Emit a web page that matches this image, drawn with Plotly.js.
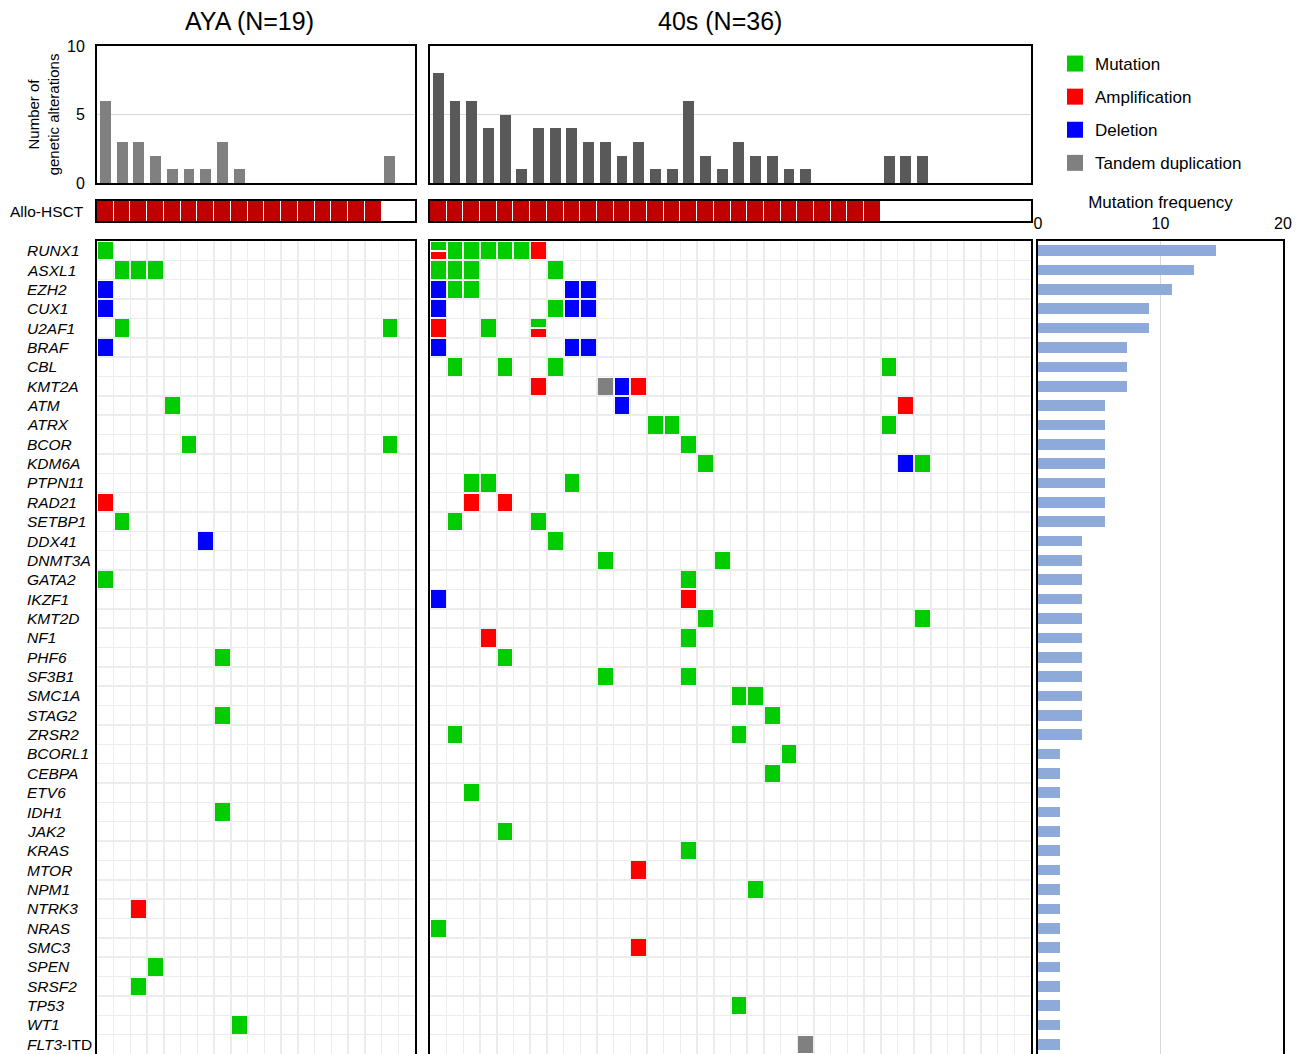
<!DOCTYPE html>
<html>
<head>
<meta charset="utf-8">
<script src="https://cdn.plot.ly/plotly-3.0.1.min.js"></script>
<style>html,body{margin:0;padding:0;background:#fff;}#chart{width:1306px;height:1054px;}</style>
</head>
<body>
<div id="chart"></div>
<script>
// ---------------- DATA ----------------
const genes = ['RUNX1','ASXL1','EZH2','CUX1','U2AF1','BRAF','CBL','KMT2A','ATM','ATRX','BCOR','KDM6A','PTPN11','RAD21','SETBP1','DDX41','DNMT3A','GATA2','IKZF1','KMT2D','NF1','PHF6','SF3B1','SMC1A','STAG2','ZRSR2','BCORL1','CEBPA','ETV6','IDH1','JAK2','KRAS','MTOR','NPM1','NTRK3','NRAS','SMC3','SPEN','SRSF2','TP53','WT1','FLT3-ITD'];
const geneLabels = genes.map(g => g === 'FLT3-ITD' ? '<i>FLT3</i>-ITD' : '<i>' + g + '</i>');

const groupTitles = ['AYA (N=19)', '40s (N=36)'];

// number of genetic alterations per patient
const ayaCounts = [6,3,3,2,1,1,1,3,1,0,0,0,0,0,0,0,0,2,0];
const fortyCounts = [8,6,6,4,5,1,4,4,4,3,3,2,3,1,1,6,2,1,3,2,2,1,1,0,0,0,0,2,2,2,0,0,0,0,0,0];

// Allo-HSCT (1 = yes, 0 = no)
const ayaAllo = [1,1,1,1,1,1,1,1,1,1,1,1,1,1,1,1,1,0,0];
const fortyAllo = [1,1,1,1,1,1,1,1,1,1,1,1,1,1,1,1,1,1,1,1,1,1,1,1,1,1,1,0,0,0,0,0,0,0,0,0];

// alterations: [gene, patient, type]; M=mutation, A=amplification, D=deletion, T=tandem duplication, 'M/A' = both
const ayaAlterations = [
  ['RUNX1',1,'M'],
  ['ASXL1',2,'M'],['ASXL1',3,'M'],['ASXL1',4,'M'],
  ['EZH2',1,'D'],
  ['CUX1',1,'D'],
  ['U2AF1',2,'M'],['U2AF1',18,'M'],
  ['BRAF',1,'D'],
  ['ATM',5,'M'],
  ['BCOR',6,'M'],['BCOR',18,'M'],
  ['RAD21',1,'A'],
  ['SETBP1',2,'M'],
  ['DDX41',7,'D'],
  ['GATA2',1,'M'],
  ['PHF6',8,'M'],
  ['STAG2',8,'M'],
  ['IDH1',8,'M'],
  ['NTRK3',3,'A'],
  ['SPEN',4,'M'],
  ['SRSF2',3,'M'],
  ['WT1',9,'M']
];
const fortyAlterations = [
  ['RUNX1',1,'M/A'],['RUNX1',2,'M'],['RUNX1',3,'M'],['RUNX1',4,'M'],['RUNX1',5,'M'],['RUNX1',6,'M'],['RUNX1',7,'A'],
  ['ASXL1',1,'M'],['ASXL1',2,'M'],['ASXL1',3,'M'],['ASXL1',8,'M'],
  ['EZH2',1,'D'],['EZH2',2,'M'],['EZH2',3,'M'],['EZH2',9,'D'],['EZH2',10,'D'],
  ['CUX1',1,'D'],['CUX1',8,'M'],['CUX1',9,'D'],['CUX1',10,'D'],
  ['U2AF1',1,'A'],['U2AF1',4,'M'],['U2AF1',7,'M/A'],
  ['BRAF',1,'D'],['BRAF',9,'D'],['BRAF',10,'D'],
  ['CBL',2,'M'],['CBL',5,'M'],['CBL',8,'M'],['CBL',28,'M'],
  ['KMT2A',7,'A'],['KMT2A',11,'T'],['KMT2A',12,'D'],['KMT2A',13,'A'],
  ['ATM',12,'D'],['ATM',29,'A'],
  ['ATRX',14,'M'],['ATRX',15,'M'],['ATRX',28,'M'],
  ['BCOR',16,'M'],
  ['KDM6A',17,'M'],['KDM6A',29,'D'],['KDM6A',30,'M'],
  ['PTPN11',3,'M'],['PTPN11',4,'M'],['PTPN11',9,'M'],
  ['RAD21',3,'A'],['RAD21',5,'A'],
  ['SETBP1',2,'M'],['SETBP1',7,'M'],
  ['DDX41',8,'M'],
  ['DNMT3A',11,'M'],['DNMT3A',18,'M'],
  ['GATA2',16,'M'],
  ['IKZF1',1,'D'],['IKZF1',16,'A'],
  ['KMT2D',17,'M'],['KMT2D',30,'M'],
  ['NF1',4,'A'],['NF1',16,'M'],
  ['PHF6',5,'M'],
  ['SF3B1',11,'M'],['SF3B1',16,'M'],
  ['SMC1A',19,'M'],['SMC1A',20,'M'],
  ['STAG2',21,'M'],
  ['ZRSR2',2,'M'],['ZRSR2',19,'M'],
  ['BCORL1',22,'M'],
  ['CEBPA',21,'M'],
  ['ETV6',3,'M'],
  ['JAK2',5,'M'],
  ['KRAS',16,'M'],
  ['MTOR',13,'A'],
  ['NPM1',20,'M'],
  ['NRAS',1,'M'],
  ['SMC3',13,'A'],
  ['TP53',19,'M'],
  ['FLT3-ITD',23,'T']
];

// mutation frequency (%) per gene
const freqPct = [14.5,12.7,10.9,9.1,9.1,7.3,7.3,7.3,5.5,5.5,5.5,5.5,5.5,5.5,5.5,
  3.6,3.6,3.6,3.6,3.6,3.6,3.6,3.6,3.6,3.6,3.6,
  1.8,1.8,1.8,1.8,1.8,1.8,1.8,1.8,1.8,1.8,1.8,1.8,1.8,1.8,1.8,1.8];

const typeNames = ['Mutation','Amplification','Deletion','Tandem duplication'];
const typeColors = ['#00cc00','#ff0000','#0000ff','#808080'];

// ---------------- BUILD ----------------
const typeCode = {M:1, A:2, D:3, T:4};
const FONT = 'Liberation Sans, Arial, Helvetica, sans-serif';
const W = 1306, H = 1054;

function fullMatrix(alts, n) {
  const z = genes.map(() => new Array(n).fill(null));
  alts.forEach(([g,p,t]) => { if (t.indexOf('/') < 0) z[genes.indexOf(g)][p-1] = typeCode[t]; });
  return z;
}
function splitMatrix(alts, n) {
  const z = [];
  for (let i = 0; i < genes.length*2; i++) z.push(new Array(n).fill(null));
  alts.forEach(([g,p,t]) => {
    if (t.indexOf('/') >= 0) {
      const [a,b] = t.split('/');
      const gi = genes.indexOf(g);
      z[2*gi][p-1] = typeCode[a];
      z[2*gi+1][p-1] = typeCode[b];
    }
  });
  return z;
}
const cs = [[0,typeColors[0]],[0.25,typeColors[0]],[0.25,typeColors[1]],[0.5,typeColors[1]],
            [0.5,typeColors[2]],[0.75,typeColors[2]],[0.75,typeColors[3]],[1,typeColors[3]]];

function heat(z, xa, ya, y0, dy) {
  return {type:'heatmap', z:z, x0:1, dx:1, y0:y0, dy:dy, xaxis:xa, yaxis:ya,
    colorscale:cs, zmin:0.5, zmax:4.5, showscale:false, xgap:2, ygap:2, hoverinfo:'skip', showlegend:false};
}
function allo(arr, xa, ya) {
  return {type:'heatmap', z:[arr.map(v => v ? 1 : null)], x0:1, dx:1, y0:0, dy:1, xaxis:xa, yaxis:ya,
    colorscale:[[0,'#c00000'],[1,'#c00000']], showscale:false, xgap:1, hoverinfo:'skip', showlegend:false};
}
function bars(counts, color, xa, ya) {
  return {type:'bar', x:counts.map((_,i) => i+1), y:counts, width:0.65, marker:{color:color},
    xaxis:xa, yaxis:ya, hoverinfo:'skip', showlegend:false};
}

const nA = ayaCounts.length, nF = fortyCounts.length;
const traces = [
  bars(ayaCounts, '#808080', 'x', 'y'),
  bars(fortyCounts, '#595959', 'x2', 'y2'),
  allo(ayaAllo, 'x3', 'y3'),
  allo(fortyAllo, 'x4', 'y4'),
  heat(fullMatrix(ayaAlterations, nA), 'x5', 'y5', 0, 1),
  heat(fullMatrix(fortyAlterations, nF), 'x6', 'y6', 0, 1),
  heat(splitMatrix(fortyAlterations, nF), 'x6', 'y6', -0.25, 0.5),
  {type:'bar', orientation:'h', x:freqPct, y:genes.map((_,i) => i), width:0.55,
   marker:{color:'#8eaadb'}, xaxis:'x7', yaxis:'y7', hoverinfo:'skip', showlegend:false}
];
typeNames.forEach((nm, i) => traces.push({
  type:'scatter', mode:'markers', x:[null], y:[null], xaxis:'x5', yaxis:'y5', name:nm,
  legendgroup:'g'+i, marker:{symbol:'square', size:16, color:typeColors[i]}, showlegend:true
}));

// ---------------- LAYOUT ----------------
const dA = [97/W, 415/W], dF = [430/W, 1031/W], dQ = [1038/W, 1283/W];
const yTop = [1-183/H, 1-46/H], yAllo = [1-221/H, 1-201/H], yHeat = [0, 1-241/H];

function box(domain, range, extra) {
  return Object.assign({domain:domain, range:range, showline:true, linecolor:'#000', linewidth:2, mirror:true,
    zeroline:false, showgrid:false, ticks:'', showticklabels:false, fixedrange:true}, extra || {});
}
const gridX = {showgrid:true, gridcolor:'#ececec', gridwidth:1.5, tickmode:'linear', tick0:0.5, dtick:1};
const heatY = Object.assign({autorange:false}, gridX);

const layout = {
  width:W, height:H, margin:{l:0, r:0, t:0, b:0},
  paper_bgcolor:'#fff', plot_bgcolor:'#fff',
  font:{family:FONT, color:'#000', size:15},
  bargap:0,
  xaxis: box(dA, [0.5, nA+0.5], {anchor:'y'}),
  yaxis: box(yTop, [0, 10], {anchor:'x', showticklabels:true, tickvals:[0,5,10], showgrid:true, gridcolor:'#d9d9d9',
    tickfont:{size:16}, ticklabelstandoff:7,
    title:{text:'Number of<br>genetic alterations', font:{size:15}, standoff:4}}),
  xaxis2: box(dF, [0.5, nF+0.5], {anchor:'y2'}),
  yaxis2: box(yTop, [0, 10], {anchor:'x2', tickvals:[0,5,10], showgrid:true, gridcolor:'#d9d9d9'}),
  xaxis3: box(dA, [0.5, nA+0.5], {anchor:'y3'}),
  yaxis3: box(yAllo, [-0.5, 0.5], {anchor:'x3'}),
  xaxis4: box(dF, [0.5, nF+0.5], {anchor:'y4'}),
  yaxis4: box(yAllo, [-0.5, 0.5], {anchor:'x4'}),
  xaxis5: box(dA, [0.5, nA+0.5], Object.assign({anchor:'y5'}, gridX)),
  yaxis5: box(yHeat, [genes.length-0.5, -0.5], Object.assign({anchor:'x5'}, heatY)),
  xaxis6: box(dF, [0.5, nF+0.5], Object.assign({anchor:'y6'}, gridX)),
  yaxis6: box(yHeat, [genes.length-0.5, -0.5], Object.assign({anchor:'x6'}, heatY)),
  xaxis7: box(dQ, [0, 20], {anchor:'y7', side:'top', showticklabels:true, tickvals:[0,10,20],
    showgrid:true, gridcolor:'#d9d9d9', tickfont:{size:16}, ticklabelstandoff:4,
    title:{text:'Mutation frequency', font:{size:17}, standoff:2}}),
  yaxis7: box(yHeat, [genes.length-0.5, -0.5], {anchor:'x7'}),
  legend:{x:1055/W, y:1-46/H, xanchor:'left', yanchor:'top', font:{size:17}, tracegroupgap:8,
    traceorder:'grouped', bgcolor:'rgba(0,0,0,0)'},
  annotations: [
    {text:groupTitles[0], xref:'paper', yref:'paper', x:249/W, y:1-21/H, xanchor:'center', yanchor:'middle', showarrow:false, font:{size:25}},
    {text:groupTitles[1], xref:'paper', yref:'paper', x:720/W, y:1-21/H, xanchor:'center', yanchor:'middle', showarrow:false, font:{size:25}},
    {text:'Allo-HSCT', xref:'paper', yref:'paper', x:86/W, y:1-211/H, xanchor:'right', yanchor:'middle', showarrow:false, font:{size:15.5}}
  ].concat(geneLabels.map((lab, i) => ({
    text:lab, xref:'paper', yref:'y5', x:25/W, y:i, xanchor:'left', yanchor:'middle', showarrow:false, font:{size:15.5}
  })))
};

Plotly.newPlot('chart', traces, layout, {staticPlot:true, displayModeBar:false});
</script>
</body>
</html>
